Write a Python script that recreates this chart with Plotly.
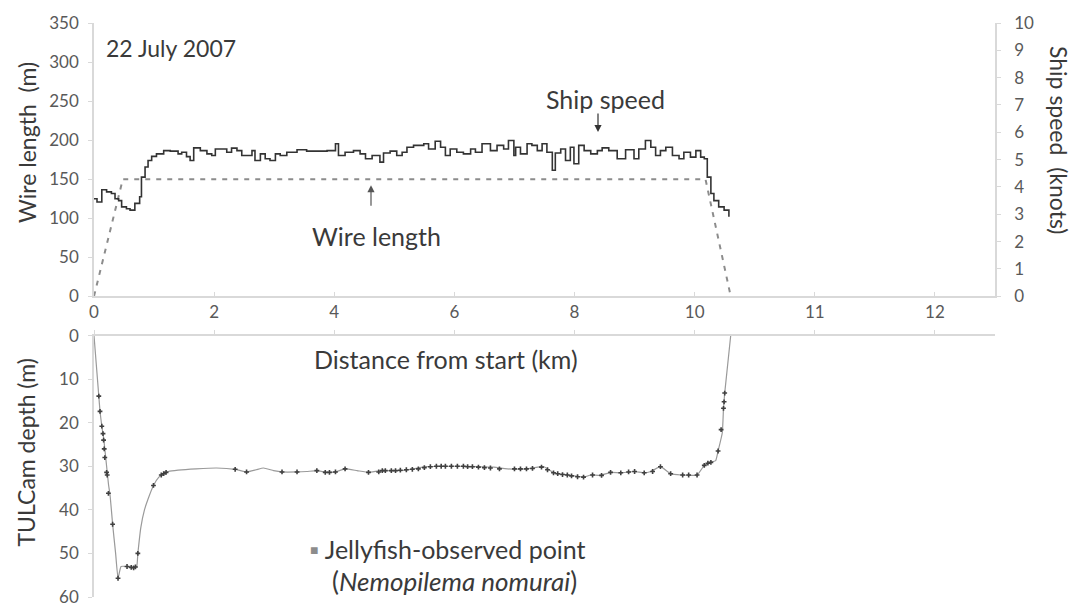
import plotly.graph_objects as go

# ---------------- data ----------------
x_tickvals = [0, 2, 4, 6, 8, 10, 12, 14]
x_ticktext = ["0", "2", "4", "6", "8", "10", "11", "12"]

wire_km = [0.0, 0.20, 0.35, 0.48, 10.18, 10.35, 10.60]
wire_m = [0, 62, 112, 150, 150, 90, 0]

speed_km = [0.0, 0.05, 0.13, 0.21, 0.29, 0.35, 0.41, 0.46, 0.54, 0.60,
            0.68, 0.76, 0.79, 0.85, 0.90, 0.96, 1.04, 1.16, 1.27, 1.40,
            1.46, 1.54, 1.60, 1.66, 1.77, 1.88, 1.96, 2.02, 2.16, 2.21,
            2.29, 2.38, 2.46, 2.54, 2.63, 2.68, 2.77, 2.85, 2.93, 3.02,
            3.10, 3.21, 3.38, 3.54, 3.77, 3.88, 4.02, 4.07, 4.18, 4.32,
            4.43, 4.52, 4.63, 4.76, 4.82, 4.93, 5.04, 5.13, 5.21, 5.32,
            5.49, 5.57, 5.68, 5.77, 5.85, 5.93, 6.04, 6.15, 6.27, 6.35,
            6.46, 6.60, 6.71, 6.82, 6.90, 6.99, 7.02, 7.10, 7.21, 7.29,
            7.38, 7.46, 7.54, 7.63, 7.68, 7.77, 7.85, 7.93, 7.99, 8.07,
            8.16, 8.27, 8.38, 8.46, 8.57, 8.71, 8.85, 8.99, 9.07, 9.18,
            9.27, 9.35, 9.43, 9.52, 9.63, 9.74, 9.82, 9.93, 10.02, 10.10,
            10.16, 10.21, 10.27, 10.32, 10.40, 10.49, 10.57]
speed_kn = [3.57, 3.45, 3.90, 3.82, 3.76, 3.57, 3.50, 3.27, 3.20, 3.15,
            3.40, 3.64, 4.36, 4.73, 4.97, 5.12, 5.21, 5.33, 5.31, 5.21,
            5.27, 5.11, 4.97, 5.43, 5.33, 5.21, 5.15, 5.39, 5.39, 5.27,
            5.42, 5.33, 5.15, 5.15, 5.33, 4.97, 5.21, 5.03, 4.97, 5.21,
            5.15, 5.27, 5.36, 5.31, 5.31, 5.33, 5.58, 5.15, 5.27, 5.33,
            5.21, 5.03, 5.15, 4.91, 5.24, 5.31, 5.15, 5.27, 5.45, 5.52,
            5.58, 5.39, 5.67, 5.45, 5.15, 5.39, 5.27, 5.21, 5.39, 5.27,
            5.58, 5.33, 5.52, 5.39, 5.70, 5.15, 5.45, 5.21, 5.58, 5.52,
            5.33, 5.58, 5.27, 4.61, 5.24, 5.39, 4.97, 5.45, 4.85, 5.52,
            5.33, 5.21, 5.33, 5.43, 5.33, 5.03, 5.36, 5.03, 5.39, 5.70,
            5.45, 5.15, 5.33, 5.45, 5.15, 5.03, 5.27, 5.09, 5.33, 5.09,
            5.03, 4.36, 3.76, 3.50, 3.27, 3.15, 2.91]

depth_km = [0.0, 0.08, 0.10, 0.13, 0.16, 0.18, 0.21, 0.24, 0.27, 0.31,
            0.36, 0.40, 0.45, 0.55, 0.65, 0.71, 0.73, 0.78, 0.84, 0.90,
            0.99, 1.08, 1.16, 1.24, 1.40, 1.70, 2.04, 2.35, 2.54,
            2.70, 2.82, 2.99, 3.13, 3.38, 3.54, 3.71, 3.88, 4.02, 4.18,
            4.38, 4.57, 4.77, 5.10, 5.27, 5.54, 6.00, 6.40, 6.66, 6.88,
            7.20, 7.49, 7.65, 7.90, 8.15, 8.27, 8.43, 8.60, 8.77, 8.99,
            9.16, 9.27, 9.43, 9.60, 9.77, 10.04, 10.16, 10.27, 10.35, 10.39,
            10.46, 10.48, 10.50, 10.60]
depth_m = [0.0, 13.9, 17.4, 20.8, 23.5, 26.0, 30.0, 34.0, 37.0, 43.3,
           50.0, 55.7, 53.0, 53.0, 53.2, 53.0, 50.0, 44.0, 40.0, 37.5,
           34.4, 32.5, 31.7, 31.2, 30.9, 30.6, 30.4, 30.7, 31.3,
           30.8, 30.4, 31.0, 31.3, 31.3, 31.2, 31.0, 31.4, 31.3, 30.6,
           31.0, 31.4, 31.0, 31.0, 30.7, 30.1, 30.0, 30.1, 30.2, 30.6,
           30.6, 30.1, 31.5, 32.0, 32.5, 32.0, 32.1, 31.4, 31.5, 31.2,
           31.5, 31.2, 30.1, 31.7, 32.0, 32.0, 29.8, 29.1, 28.7, 26.5,
           22.3, 16.7, 13.2, 0.0]

jelly_km = [0.08, 0.10, 0.13, 0.15, 0.16, 0.17, 0.18, 0.21, 0.22, 0.24,
            0.31, 0.40, 0.55, 0.62, 0.66, 0.69, 0.73, 0.99, 1.12, 1.16,
            1.20, 2.35, 2.54, 3.13, 3.38, 3.71, 3.85, 3.92, 4.02, 4.18,
            4.57, 4.74, 4.80, 4.85, 4.95, 5.02, 5.10, 5.20, 5.30, 5.40,
            5.50, 5.60, 5.70, 5.78, 5.85, 5.95, 6.05, 6.15, 6.22, 6.30,
            6.40, 6.50, 6.60, 6.75, 7.00, 7.10, 7.20, 7.30, 7.45, 7.55,
            7.65, 7.72, 7.80, 7.88, 7.95, 8.05, 8.15, 8.30, 8.45, 8.60,
            8.77, 8.90, 9.00, 9.16, 9.30, 9.43, 9.60, 9.80, 9.90, 10.04,
            10.16, 10.22, 10.27, 10.39, 10.44, 10.48, 10.49, 10.50]
jelly_m = [13.9, 17.4, 20.8, 22.5, 24.0, 26.0, 28.0, 31.4, 32.0, 36.2,
           43.3, 55.7, 53.0, 53.2, 53.3, 53.1, 50.0, 34.4, 32.0, 31.7,
           31.4, 30.7, 31.3, 31.3, 31.3, 31.0, 31.4, 31.4, 31.3, 30.6,
           31.4, 31.3, 31.0, 31.0, 31.0, 31.0, 30.9, 30.8, 30.7, 30.6,
           30.3, 30.1, 30.0, 30.0, 30.0, 30.0, 30.0, 30.0, 30.1, 30.1,
           30.2, 30.3, 30.4, 30.6, 30.6, 30.6, 30.6, 30.5, 30.2, 30.8,
           31.5, 31.7, 31.9, 32.0, 32.2, 32.4, 32.5, 32.0, 32.1, 31.4,
           31.5, 31.3, 31.2, 31.5, 31.2, 30.1, 31.7, 32.0, 32.0, 32.0,
           29.8, 29.3, 29.1, 26.5, 21.6, 16.7, 15.2, 13.2]

# ---------------- layout helpers ----------------
W, H = 1073, 615
ML, MR, MT, MB = 94, 78, 23, 8
PW, PH = W - ML - MR, H - MT - MB


def px_x(p):
    return (p - ML) / PW


def px_y(p):
    return 1 - (p - MT) / PH


FONT = "Lato, 'Open Sans', sans-serif"
TICK_COLOR = "#595959"
LINE_COLOR = "#d9d9d9"
TEXT_COLOR = "#3a3a3a"

fig = go.Figure()

fig.add_trace(go.Scatter(x=wire_km, y=wire_m, mode="lines", xaxis="x", yaxis="y",
                         line=dict(color="#8c8c8c", width=2, dash="5px,6px"),
                         showlegend=False))
fig.add_trace(go.Scatter(x=speed_km, y=speed_kn, mode="lines", xaxis="x", yaxis="y2",
                         line=dict(color="#333333", width=1.6, shape="hv"),
                         showlegend=False))
fig.add_trace(go.Scatter(x=depth_km, y=depth_m, mode="lines", xaxis="x2", yaxis="y3",
                         line=dict(color="#9a9a9a", width=1.2, shape="spline", smoothing=0.4),
                         showlegend=False))
fig.add_trace(go.Scatter(x=jelly_km, y=jelly_m, mode="markers", xaxis="x2", yaxis="y3",
                         marker=dict(symbol="cross", size=4, color="#404040"),
                         showlegend=False))

top_dom = [px_y(301), 1.0]
bot_dom = [0.0, px_y(341)]

axis_common = dict(showgrid=False, zeroline=False, showline=True, linecolor=LINE_COLOR,
                   linewidth=1.5, tickcolor=LINE_COLOR,
                   tickfont=dict(family=FONT, size=17, color=TICK_COLOR))

fig.update_layout(
    width=W, height=H, margin=dict(l=ML, r=MR, t=MT, b=MB),
    paper_bgcolor="white", plot_bgcolor="white",
    font=dict(family=FONT, color=TEXT_COLOR),
    xaxis=dict(domain=[0, 1], anchor="y", range=[0, 15], tickmode="array",
               tickvals=x_tickvals, ticktext=x_ticktext, ticks="inside", ticklen=4,
               **axis_common),
    yaxis=dict(domain=top_dom, anchor="x", range=[0, 350], dtick=50, ticks="outside",
               ticklen=4, ticklabelstandoff=6, **axis_common),
    yaxis2=dict(overlaying="y", side="right", anchor="x", range=[0, 10], dtick=1,
                ticks="outside", ticklen=4, ticklabelstandoff=10, **axis_common),
    xaxis2=dict(domain=[0, 1], anchor="y3", side="top", range=[0, 15], tickmode="array",
                tickvals=x_tickvals, showticklabels=False, ticks="outside", ticklen=4,
                **axis_common),
    yaxis3=dict(domain=bot_dom, anchor="x2", range=[60, 0], dtick=10, ticks="outside",
                ticklen=4, ticklabelstandoff=6, **axis_common),
)

ann = []
# axis titles
ann.append(dict(text="Wire length  (m)", x=px_x(27), y=px_y(145), textangle=-90,
                font=dict(size=23, color=TEXT_COLOR)))
ann.append(dict(text="TULCam depth (m)", x=px_x(26), y=px_y(460), textangle=-90,
                font=dict(size=23, color=TEXT_COLOR)))
ann.append(dict(text="Ship speed  (knots)", x=px_x(1059), y=px_y(142), textangle=90,
                font=dict(size=23, color=TEXT_COLOR)))
ann.append(dict(text="Distance from start (km)", x=px_x(446), y=px_y(365),
                font=dict(size=25, color=TEXT_COLOR)))
# in-plot labels
ann.append(dict(text="22 July 2007", x=px_x(104), y=px_y(48), xanchor="left",
                font=dict(size=23, color=TEXT_COLOR)))
ann.append(dict(text="Ship speed", x=px_x(605), y=px_y(100),
                font=dict(size=25, color=TEXT_COLOR)))
ann.append(dict(text="Wire length", x=px_x(376), y=px_y(240),
                font=dict(size=25, color=TEXT_COLOR)))
ann.append(dict(text='<span style="color:#8c8c8c">▪</span> Jellyfish-observed point',
                x=px_x(307), y=px_y(558), xanchor="left",
                font=dict(size=25, color=TEXT_COLOR)))
ann.append(dict(text="(<i>Nemopilema nomurai</i>)", x=px_x(330), y=px_y(591),
                xanchor="left", font=dict(size=26, color=TEXT_COLOR)))
for a in ann:
    a.update(xref="paper", yref="paper", showarrow=False, yanchor="middle")
    a.setdefault("xanchor", "center")

# arrows
ann.append(dict(text="", xref="paper", yref="paper", x=px_x(598), y=px_y(134),
                ax=0, ay=-20, showarrow=True, arrowhead=2, arrowsize=1.2,
                arrowwidth=1.2, arrowcolor="#333333"))
ann.append(dict(text="", xref="paper", yref="paper", x=px_x(371), y=px_y(188),
                ax=0, ay=22, showarrow=True, arrowhead=2, arrowsize=1.2,
                arrowwidth=1.2, arrowcolor="#555555"))

fig.update_layout(annotations=ann)

fig.write_html("out.html")
